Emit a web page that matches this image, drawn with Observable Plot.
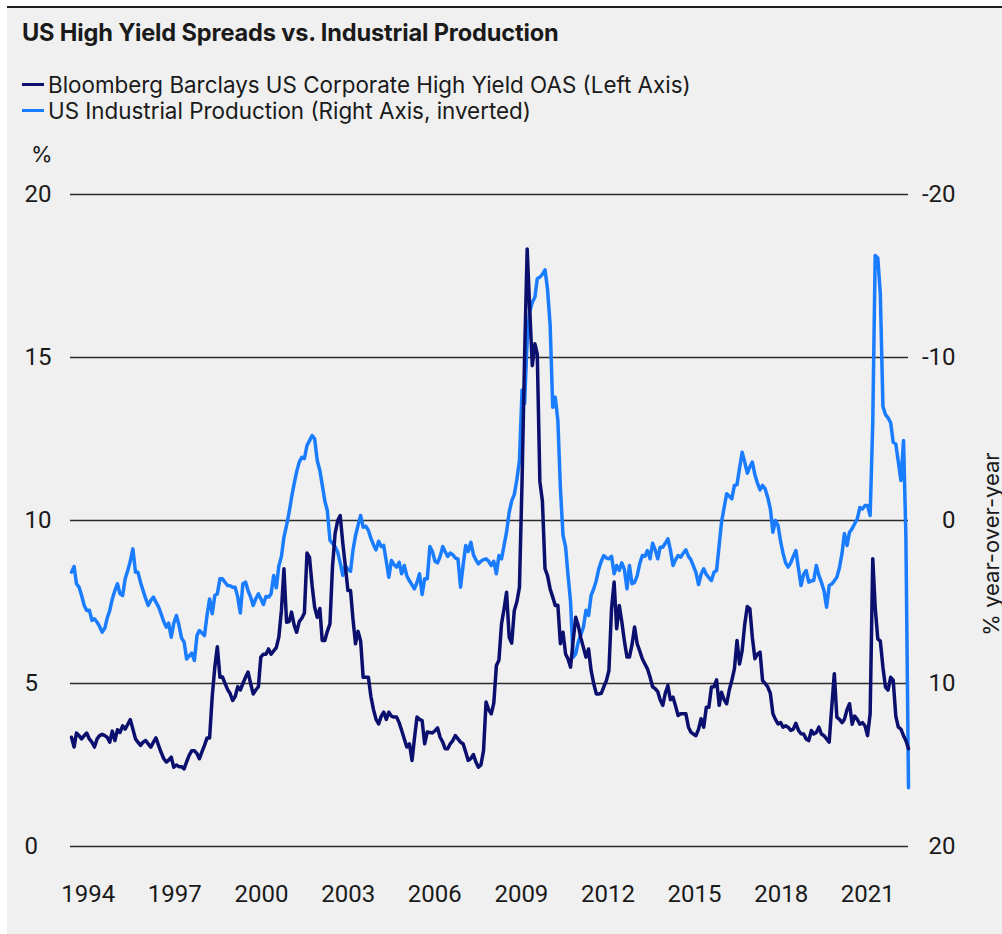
<!DOCTYPE html>
<html>
<head>
<meta charset="utf-8">
<script src="https://cdn.jsdelivr.net/npm/d3@7"></script>
<script src="https://cdn.jsdelivr.net/npm/@observablehq/plot@0.6"></script>
<style>
  html, body { margin: 0; padding: 0; background: #ffffff; }
  body { width: 1002px; height: 934px; position: relative; overflow: hidden; font-family: Inter, Roboto, "Liberation Sans", sans-serif; color: #1a1a1a; }
  #panel { position: absolute; left: 7px; top: 6px; width: 995px; height: 928px; background: #f0f0f0; border-top: 2px solid #1e1e1e; }
  #title { position: absolute; left: 22px; top: 18px; font-size: 23.6px; font-weight: 700; letter-spacing: -0.15px; white-space: nowrap; }
  .leg { position: absolute; left: 22px; font-size: 22.4px; white-space: nowrap; display: flex; align-items: center; }
  .leg i { display: inline-block; width: 22px; height: 3px; margin-right: 4px; }
  #pct { position: absolute; left: 31px; top: 141px; font-size: 22px; }
  #ylab2 { position: absolute; left: 991px; top: 544px; transform: translate(-50%, -50%) rotate(-90deg); font-size: 22px; white-space: nowrap; }
  #chart { position: absolute; left: 0; top: 140px; }
</style>
</head>
<body>
<div id="panel"></div>
<div id="title">US High Yield Spreads vs. Industrial Production</div>
<div class="leg" id="leg1" style="top:71px"><i style="background:#0b0f6e"></i>Bloomberg Barclays US Corporate High Yield OAS (Left Axis)</div>
<div class="leg" id="leg2" style="top:97px"><i style="background:#1a7cff"></i>US Industrial Production (Right Axis, inverted)</div>
<div id="pct">%</div>
<div id="ylab2">% year-over-year</div>
<div id="chart"></div>
<script>
// Monthly observations, Jan 1994 – Apr 2021
const firstMonth = "1994-01-01";
const lastMonth = "2021-04-01";

// Bloomberg Barclays US Corporate High Yield OAS, % (left axis)
const hyOAS = [
  3.35, 3.05, 3.48, 3.4, 3.30, 3.4, 3.48, 3.3, 3.2, 3.05, 3.3, 3.4,        // 1994
  3.44, 3.4, 3.35, 3.2, 3.54, 3.25, 3.58, 3.5, 3.7, 3.6, 3.75, 3.89,       // 1995
  3.6, 3.30, 3.2, 3.10, 3.2, 3.25, 3.15, 3.05, 3.2, 3.33, 3.1, 2.89,       // 1996
  2.7, 2.59, 2.65, 2.74, 2.43, 2.5, 2.45, 2.45, 2.38, 2.6, 2.8, 2.94,      // 1997
  2.94, 2.85, 2.69, 2.9, 3.1, 3.33, 3.33, 4.6, 5.5, 6.13, 5.19, 5.2,       // 1998
  5.0, 4.81, 4.7, 4.48, 4.6, 4.9, 4.8, 5.0, 5.19, 5.35, 5.0, 4.68,         // 1999
  4.8, 4.9, 5.81, 5.9, 5.9, 6.06, 5.9, 6.0, 6.1, 6.42, 7.24, 8.52,         // 2000
  6.88, 6.9, 7.19, 6.8, 6.57, 6.9, 7.0, 7.16, 9.0, 8.87, 8.0, 7.34,        // 2001
  7.03, 7.3, 6.32, 6.32, 6.6, 6.83, 8.57, 9.6, 10.0, 10.15, 9.3, 8.6,      // 2002
  7.85, 7.85, 7.0, 6.22, 6.6, 6.3, 5.19, 5.19, 5.19, 4.6, 4.2, 3.9,        // 2003
  3.76, 4.0, 4.12, 3.9, 4.12, 4.0, 3.97, 3.97, 3.8, 3.56, 3.3, 3.05,       // 2004
  3.15, 2.64, 3.3, 3.97, 3.9, 3.86, 3.15, 3.51, 3.5, 3.48, 3.55, 3.64,     // 2005
  3.35, 3.2, 3.0, 3.0, 3.15, 3.25, 3.40, 3.3, 3.2, 3.15, 2.9, 2.64,        // 2006
  2.7, 2.82, 2.6, 2.43, 2.5, 2.94, 4.43, 4.2, 4.07, 4.4, 5.55, 5.71,       // 2007
  6.83, 7.3, 7.80, 6.42, 6.24, 7.24, 7.5, 7.95, 11.2, 15.0, 18.33, 16.5,   // 2008
  14.75, 15.42, 15.11, 11.2, 10.6, 8.52, 8.31, 7.9, 7.65, 7.39, 7.4, 6.22, // 2009
  6.57, 5.9, 5.76, 5.5, 6.3, 7.03, 6.78, 6.4, 6.1, 5.81, 6.06, 5.4,        // 2010
  5.0, 4.68, 4.68, 4.7, 4.9, 5.09, 5.40, 7.3, 8.11, 6.68, 7.39, 6.9,       // 2011
  6.3, 5.81, 5.81, 6.2, 6.73, 6.22, 6.0, 5.76, 5.6, 5.45, 5.2, 4.9,        // 2012
  4.84, 4.75, 4.5, 4.33, 4.7, 4.94, 4.5, 4.58, 4.3, 4.02, 4.07, 4.07,      // 2013
  4.07, 3.66, 3.51, 3.45, 3.40, 3.6, 3.92, 3.66, 4.27, 4.27, 4.89, 4.9,    // 2014
  5.11, 4.33, 4.73, 4.5, 4.38, 4.8, 5.09, 5.45, 6.32, 5.60, 6.01, 6.8,     // 2015
  7.36, 7.29, 6.42, 5.76, 5.9, 5.96, 5.09, 5.0, 4.89, 4.7, 4.07, 3.9,      // 2016
  3.76, 3.8, 3.66, 3.7, 3.66, 3.56, 3.6, 3.78, 3.56, 3.46, 3.45, 3.3,      // 2017
  3.25, 3.56, 3.45, 3.5, 3.66, 3.45, 3.4, 3.3, 3.20, 4.27, 5.30, 3.97,     // 2018
  3.9, 3.8, 3.9, 4.2, 4.38, 3.75, 4.0, 3.9, 3.75, 3.8, 3.7, 3.40,          // 2019
  4.07, 8.83, 7.34, 6.37, 6.3, 5.5, 4.89, 4.8, 5.19, 5.1, 4.0, 3.66,       // 2020
  3.6, 3.4, 3.25, 3.0                                                      // 2021
];

// US Industrial Production, % year-over-year (right axis, inverted)
const ipYoY = [
  3.17, 2.82, 3.88, 4.09, 4.6, 5.21, 5.52, 5.5, 6.13, 6.03, 6.24, 6.5,     // 1994
  6.85, 6.6, 6.0, 5.52, 4.81, 4.3, 3.88, 4.50, 4.60, 3.58, 3.07, 2.5,      // 1995
  1.74, 3.17, 3.17, 3.8, 4.29, 4.8, 5.21, 4.9, 4.70, 5.01, 5.3, 5.72,      // 1996
  6.2, 6.54, 6.3, 7.16, 6.30, 5.83, 6.4, 7.2, 7.46, 8.49, 8.3, 8.14,       // 1997
  8.59, 7.06, 6.75, 6.9, 7.06, 5.8, 4.81, 5.72, 4.60, 4.5, 3.58, 3.58,     // 1998
  3.8, 3.99, 4.0, 4.1, 4.1, 4.70, 5.68, 3.88, 3.78, 4.3, 4.70, 5.21,       // 1999
  4.8, 4.50, 4.8, 5.15, 4.66, 4.7, 4.5, 3.37, 4.13, 2.8, 2.2, 1.02,        // 2000
  0.3, -0.51, -1.4, -2.25, -3.0, -3.58, -3.88, -3.8, -4.6, -4.9, -5.21, -5.01, // 2001
  -3.68, -3.07, -2.2, -1.2, -0.61, 1.2, 1.4, 1.6, 1.94, 2.6, 3.37, 2.76,   // 2002
  3.0, 3.11, 1.84, 0.92, 0.3, -0.31, 0.41, 0.35, 0.6, 1.1, 1.5, 1.80,      // 2003
  1.27, 1.6, 1.53, 2.5, 3.48, 2.45, 2.7, 2.86, 2.56, 3.27, 2.76, 3.4,      // 2004
  3.7, 3.95, 4.19, 3.8, 3.27, 4.54, 3.58, 3.58, 1.6, 1.9, 2.5, 2.6,        // 2005
  2.21, 1.60, 1.9, 2.21, 2.0, 2.1, 2.3, 2.35, 4.09, 2.76, 1.53, 1.9,       // 2006
  1.33, 2.1, 2.4, 2.66, 2.5, 2.4, 2.35, 2.5, 2.76, 2.5, 3.27, 2.15,        // 2007
  2.35, 1.5, 0.7, -0.5, -1.2, -1.6, -2.5, -3.68, -8.0, -7.16, -11.04, -12.8, // 2008
  -13.39, -13.7, -14.83, -14.93, -15.1, -15.38, -14.2, -12.0, -6.95, -7.57, -6.13, -2.0, // 2009
  0.9, 1.64, 3.3, 5.0, 8.39, 8.18, 7.46, 7.0, 6.54, 5.5, 5.83, 4.6,        // 2010
  4.19, 3.68, 3.0, 2.5, 2.15, 2.3, 2.35, 2.2, 3.27, 2.76, 3.07, 2.6,       // 2011
  3.0, 4.19, 2.76, 3.88, 3.8, 3.4, 2.66, 2.15, 2.2, 1.84, 2.35, 1.39,      // 2012
  1.8, 2.35, 1.64, 1.64, 1.4, 1.12, 1.8, 2.76, 2.4, 2.15, 2.25, 2.0,       // 2013
  1.80, 2.2, 2.4, 2.8, 3.2, 3.93, 3.3, 2.96, 3.31, 3.5, 3.68, 3.17,        // 2014
  3.07, 1.5, 0.1, -0.8, -1.64, -1.5, -1.33, -2.15, -2.2, -3.2, -4.19, -3.6, // 2015
  -2.90, -3.3, -3.58, -2.8, -2.3, -1.88, -2.15, -1.94, -1.4, -0.72, 0.72, 0.0, // 2016
  0.31, 1.3, 2.0, 2.6, 2.86, 2.6, 2.2, 1.84, 2.96, 3.99, 3.3, 3.07,        // 2017
  3.78, 3.7, 3.68, 2.76, 3.37, 3.8, 4.29, 5.32, 3.99, 3.9, 3.7, 3.48,      // 2018
  2.9, 2.0, 0.8, 1.53, 0.72, 0.5, 0.2, -0.10, -0.8, -0.7, -0.92, -0.92,    // 2019
  -0.31, -6.0, -16.26, -16.1, -13.9, -7.0, -6.5, -6.3, -6.0, -4.8, -4.70, -3.6, // 2020
  -2.45, -4.91, 1.0, 16.4                                                  // 2021
];

// Axis ticks
const leftTicks = [0, 5, 10, 15, 20];
const rightTicks = [20, 10, 0, -10, -20];          // inverted right axis values
const yearTickAt = ["1994-07-18", "1997-05-12", "2000-03-09", "2003-01-04", "2005-10-28",
                    "2008-08-24", "2011-06-19", "2014-04-13", "2017-02-07", "2019-12-04"];
const yearLabels = ["1994", "1997", "2000", "2003", "2006", "2009", "2012", "2015", "2018", "2021"];

const colors = { hy: "#0b0f6e", ip: "#1a7cff", grid: "#2b2b2b" };

// build table
const months = d3.utcMonth.range(new Date(firstMonth), d3.utcMonth.offset(new Date(lastMonth), 1));
const rows = months.map((date, i) => ({ date, hy: hyOAS[i], ip: ipYoY[i] }));

// right axis (inverted) value -> left axis position
const rightToLeft = r => 10 - r / 2;
const tickDates = yearTickAt.map(s => new Date(s));
const labelByTime = new Map(tickDates.map((d, i) => [+d, yearLabels[i]]));

const tickFont = "Roboto, 'Liberation Sans', sans-serif";

const chart = Plot.plot({
  width: 1002,
  height: 794,
  marginLeft: 70,
  marginRight: 94,
  marginTop: 54,
  marginBottom: 88,
  insetLeft: 1,
  x: { type: "utc", domain: [new Date(firstMonth), new Date(lastMonth)] },
  y: { domain: [0, 20] },
  style: { background: "transparent", fontFamily: tickFont, fontSize: "24px", color: "#1a1a1a", overflow: "visible" },
  marks: [
    Plot.ruleY(leftTicks, { stroke: colors.grid, strokeWidth: 1.4 }),
    Plot.axisY(leftTicks, { anchor: "left", tickSize: 0, tickPadding: 46, textAnchor: "start", label: null }),
    Plot.axisY(rightTicks.map(rightToLeft), {
      anchor: "right", tickSize: 0, tickPadding: 47, textAnchor: "end", label: null,
      tickFormat: y => String(Math.round(2 * (10 - y)))
    }),
    Plot.axisX(tickDates, { anchor: "bottom", tickSize: 0, tickPadding: 38, label: null, tickFormat: d => labelByTime.get(+d) }),
    Plot.line(rows, { x: "date", y: d => rightToLeft(d.ip), stroke: colors.ip, strokeWidth: 3.5, strokeLinejoin: "round" }),
    Plot.line(rows, { x: "date", y: "hy", stroke: colors.hy, strokeWidth: 3.5, strokeLinejoin: "round" })
  ]
});
document.getElementById("chart").appendChild(chart);
</script>
</body>
</html>
